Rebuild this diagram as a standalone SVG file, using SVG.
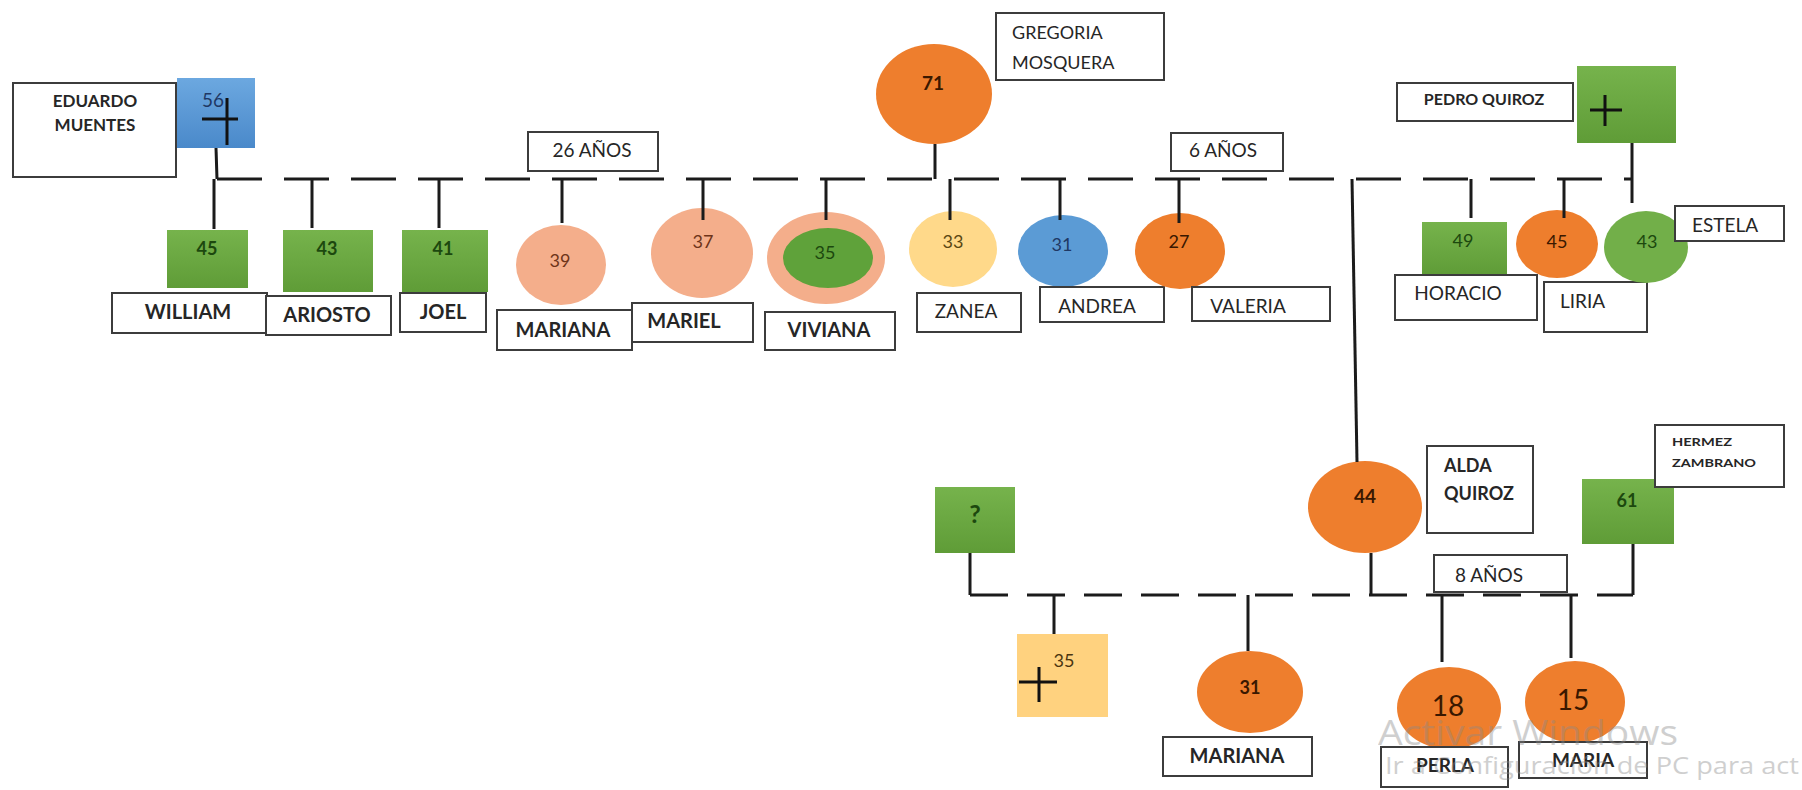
<svg xmlns="http://www.w3.org/2000/svg" width="1802" height="790" viewBox="0 0 1802 790">
<defs>
<linearGradient id="gGreen" x1="0" y1="0" x2="0" y2="1"><stop offset="0" stop-color="#76B34C"/><stop offset="1" stop-color="#5F9C37"/></linearGradient>
<linearGradient id="gBlue" x1="0" y1="0" x2="0" y2="1"><stop offset="0" stop-color="#6CA8E0"/><stop offset="1" stop-color="#4A89CA"/></linearGradient>
<style>
.lbl{fill:#fff;stroke:#3c3c3c;stroke-width:2}
.t{font-family:Lato,"Liberation Sans",sans-serif;fill:#262626}
.b{font-weight:bold}
.m{text-anchor:middle}
.gbox{fill:url(#gGreen)}
.orange{fill:#EE7E2D}
.salmon{fill:#F4AE8B}
.num{font-family:Lato,"Liberation Sans",sans-serif;text-anchor:middle}
.ng{fill:#1C480E;font-weight:bold}
.no{fill:#3A1800}
.cross{stroke:#111;stroke-width:3;fill:none}
.c{stroke:#1b1b1b;stroke-width:3;fill:none}
.d1{stroke-dasharray:45 22}
.d2{stroke-dasharray:38 19}
.wm{font-family:"Open Sans","Liberation Sans",sans-serif;fill:#8a8a8a;opacity:0.4}
</style>
</defs>
<rect width="1802" height="790" fill="#fff"/>

<g id="eduardo">
<rect class="lbl" x="13" y="83" width="163" height="94"/>
<text class="t b m" x="95" y="107" font-size="17">EDUARDO</text>
<text class="t b m" x="95" y="131" font-size="17">MUENTES</text>
<rect x="177" y="78" width="78" height="70" fill="url(#gBlue)"/>
<text class="num" x="213" y="107" font-size="19" fill="#1F3864">56</text>
<path class="cross" d="M227 98V145M202 119H238"/>
</g>

<g id="gregoria">
<ellipse class="orange" cx="934" cy="94" rx="58" ry="50"/>
<text class="num no b" x="933" y="90" font-size="19">71</text>
<rect class="lbl" x="996" y="13" width="168" height="67"/>
<text class="t" x="1012" y="39" font-size="18">GREGORIA</text>
<text class="t" x="1012" y="69" font-size="18">MOSQUERA</text>
</g>

<g id="pedro">
<rect class="lbl" x="1397" y="83" width="176" height="38"/>
<text class="t b m" x="1484" y="105" font-size="16">PEDRO QUIROZ</text>
<rect class="gbox" x="1577" y="66" width="99" height="77"/>
<path class="cross" d="M1605 95V126M1590 110H1622"/>
</g>

<g id="anos26">
<rect class="lbl" x="528" y="132" width="130" height="39"/>
<text class="t m" x="592" y="157" font-size="19">26 AÑOS</text>
</g>
<g id="anos6">
<rect class="lbl" x="1171" y="133" width="112" height="38"/>
<text class="t m" x="1223" y="157" font-size="19">6 AÑOS</text>
</g>

<g id="william">
<rect class="gbox" x="167" y="230" width="81" height="58"/>
<text class="num ng" x="207" y="255" font-size="18">45</text>
<rect class="lbl" x="112" y="293" width="155" height="40"/>
<text class="t b m" x="188" y="319" font-size="20">WILLIAM</text>
</g>
<g id="ariosto">
<rect class="gbox" x="283" y="230" width="90" height="62"/>
<text class="num ng" x="327" y="255" font-size="18">43</text>
<rect class="lbl" x="266" y="296" width="125" height="39"/>
<text class="t b m" x="327" y="322" font-size="20">ARIOSTO</text>
</g>
<g id="joel">
<rect class="gbox" x="402" y="230" width="86" height="62"/>
<text class="num ng" x="443" y="255" font-size="18">41</text>
<rect class="lbl" x="400" y="293" width="86" height="39"/>
<text class="t b m" x="443" y="319" font-size="20">JOEL</text>
</g>
<g id="mariana39">
<ellipse class="salmon" cx="561" cy="265" rx="45" ry="40"/>
<text class="num" x="560" y="267" font-size="18" fill="#6E3419">39</text>
<rect class="lbl" x="497" y="310" width="135" height="40"/>
<text class="t b m" x="563" y="337" font-size="20">MARIANA</text>
</g>
<g id="mariel">
<ellipse class="salmon" cx="702" cy="253" rx="51" ry="45"/>
<text class="num" x="703" y="248" font-size="18" fill="#6E3419">37</text>
<rect class="lbl" x="632" y="303" width="121" height="39"/>
<text class="t b m" x="684" y="328" font-size="20">MARIEL</text>
</g>
<g id="viviana">
<ellipse class="salmon" cx="826" cy="258" rx="59" ry="46"/>
<ellipse cx="828" cy="258" rx="45" ry="30" fill="#5FA23A"/>
<text class="num" x="825" y="259" font-size="18" fill="#1C480E">35</text>
<rect class="lbl" x="765" y="312" width="130" height="38"/>
<text class="t b m" x="829" y="337" font-size="20">VIVIANA</text>
</g>
<g id="zanea">
<ellipse cx="953" cy="249" rx="44" ry="38" fill="#FFD98A"/>
<text class="num" x="953" y="248" font-size="18" fill="#5A4712">33</text>
<rect class="lbl" x="917" y="293" width="104" height="39"/>
<text class="t m" x="966" y="318" font-size="19">ZANEA</text>
</g>
<g id="andrea">
<ellipse cx="1063" cy="251" rx="45" ry="36" fill="#5B9BD5"/>
<text class="num" x="1062" y="251" font-size="18" fill="#1F3864">31</text>
<rect class="lbl" x="1040" y="287" width="124" height="35"/>
<text class="t m" x="1097" y="313" font-size="19">ANDREA</text>
</g>
<g id="valeria">
<ellipse class="orange" cx="1180" cy="251" rx="45" ry="38"/>
<text class="num no" x="1179" y="248" font-size="18">27</text>
<rect class="lbl" x="1192" y="287" width="138" height="34"/>
<text class="t m" x="1248" y="313" font-size="19">VALERIA</text>
</g>
<g id="horacio">
<rect class="gbox" x="1422" y="222" width="85" height="53"/>
<text class="num" x="1463" y="247" font-size="18" fill="#1C480E">49</text>
<rect class="lbl" x="1395" y="275" width="142" height="45"/>
<text class="t m" x="1458" y="300" font-size="19">HORACIO</text>
</g>
<g id="liria">
<ellipse class="orange" cx="1557" cy="244" rx="41" ry="34"/>
<text class="num no" x="1557" y="248" font-size="18">45</text>
<rect class="lbl" x="1544" y="282" width="103" height="50"/>
<text class="t" x="1560" y="308" font-size="19">LIRIA</text>
</g>
<g id="estela">
<ellipse cx="1646" cy="247" rx="42" ry="36" fill="#72AF49"/>
<text class="num" x="1647" y="248" font-size="18" fill="#1C480E">43</text>
<rect class="lbl" x="1675" y="206" width="109" height="35"/>
<text class="t m" x="1725" y="232" font-size="19">ESTELA</text>
</g>

<g id="alda">
<ellipse class="orange" cx="1365" cy="507" rx="57" ry="46"/>
<text class="num no b" x="1365" y="503" font-size="19">44</text>
<rect class="lbl" x="1427" y="446" width="106" height="87"/>
<text class="t b" x="1444" y="472" font-size="18">ALDA</text>
<text class="t b" x="1444" y="500" font-size="18">QUIROZ</text>
</g>
<g id="hermez">
<rect class="gbox" x="1582" y="479" width="92" height="65"/>
<text class="num ng" x="1627" y="507" font-size="18">61</text>
<rect class="lbl" x="1655" y="425" width="129" height="62"/>
<text class="t b" x="1672" y="446" font-size="12" textLength="60" lengthAdjust="spacingAndGlyphs">HERMEZ</text>
<text class="t b" x="1672" y="467" font-size="12" textLength="84" lengthAdjust="spacingAndGlyphs">ZAMBRANO</text>
</g>
<g id="desconocido">
<rect class="gbox" x="935" y="487" width="80" height="66"/>
<text class="num ng" x="975" y="523" font-size="25">?</text>
</g>
<g id="anos8">
<rect class="lbl" x="1434" y="555" width="133" height="37"/>
<text class="t m" x="1489" y="582" font-size="19">8 AÑOS</text>
</g>
<g id="hijo35">
<rect x="1017" y="634" width="91" height="83" fill="#FFD27F"/>
<text class="num" x="1064" y="667" font-size="18" fill="#4A3510">35</text>
<path class="cross" d="M1039 667V702M1019 682H1057"/>
</g>
<g id="mariana31">
<ellipse class="orange" cx="1250" cy="692" rx="53" ry="41"/>
<text class="num no b" x="1250" y="694" font-size="18">31</text>
<rect class="lbl" x="1163" y="737" width="149" height="39"/>
<text class="t b m" x="1237" y="763" font-size="20">MARIANA</text>
</g>
<g id="perla">
<ellipse class="orange" cx="1449" cy="708" rx="52" ry="41"/>
<text class="num no" x="1448" y="716" font-size="28">18</text>
<rect class="lbl" x="1381" y="747" width="127" height="40"/>
<text class="t b m" x="1445" y="772" font-size="19">PERLA</text>
</g>
<g id="maria">
<ellipse class="orange" cx="1575" cy="702" rx="50" ry="41"/>
<text class="num no" x="1573" y="710" font-size="28">15</text>
<rect class="lbl" x="1519" y="742" width="128" height="36"/>
<text class="t b m" x="1583" y="767" font-size="19">MARIA</text>
</g>

<g id="connectors">
<path class="c d1" d="M217 179H1633"/>
<path class="c" d="M216 148L217 179"/>
<path class="c" d="M935 144V179"/>
<path class="c" d="M1632 143V203"/>
<path class="c" d="M1352 179L1357 462"/>
<path class="c" d="M214 179V229M312 179V228M439 179V228M562 179V223M703 179V220M826 179V220M950 179V220M1060 179V220M1179 179V223M1471 179V218M1564 179V218"/>
<path class="c d2" d="M970 595H1633"/>
<path class="c" d="M970 553V595M1371 553V595M1633 544V595"/>
<path class="c" d="M1054 595V634M1248 595V651M1442 595V662M1571 595V658"/>
</g>

<g id="watermark">
<text class="wm" x="1378" y="745" font-size="34" textLength="300" lengthAdjust="spacingAndGlyphs">Activar Windows</text>
<text class="wm" x="1385" y="774" font-size="24" textLength="414" lengthAdjust="spacingAndGlyphs">Ir a Configuración de PC para act</text>
</g>
</svg>
